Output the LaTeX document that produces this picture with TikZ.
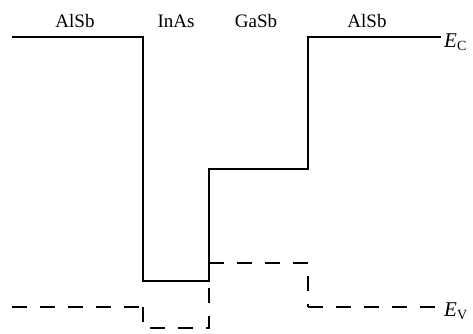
\documentclass[tikz,border=0pt]{standalone}
\usepackage{fontspec}
\setmainfont{Liberation Serif}
\newcommand{\bandsub}[1]{\raisebox{-0.35ex}{\fontsize{14}{16}\selectfont #1}}
\begin{document}
\begin{tikzpicture}[x=1pt,y=-1pt,
  band/.style={line width=2.6pt, line join=miter},
  vband/.style={band, dash pattern=on 15pt off 13pt},
  lab/.style={font=\fontsize{19}{22}\selectfont, inner sep=0pt},
  elab/.style={font=\fontsize{21}{24}\selectfont, inner sep=0pt, anchor=west}]
\useasboundingbox (0,0) rectangle (473,333);
% conduction band
\coordinate (c1) at (12,37);
\coordinate (c2) at (143,37);
\coordinate (c3) at (143,281);
\coordinate (c4) at (209,281);
\coordinate (c5) at (209,169);
\coordinate (c6) at (308,169);
\coordinate (c7) at (308,37);
\coordinate (c8) at (441,37);
\draw[band] (c1) -- (c2) -- (c3) -- (c4) -- (c5) -- (c6) -- (c7) -- (c8);
% valence band
\coordinate (v1) at (12,307);
\coordinate (v2) at (143,307);
\coordinate (v3) at (143,328);
\coordinate (v4) at (209,328);
\coordinate (v5) at (209,263);
\coordinate (v6) at (308,263);
\coordinate (v7) at (308,307);
\coordinate (v8) at (441,307);
\draw[vband] (v1) -- (v2);
\draw[vband] (v2) -- (v3) -- (v4) -- (v5);
\draw[vband] (v5) -- (v6) -- (v7);
\draw[vband] (v7) -- (v8);
% labels
\node[lab] (l1) at (75,21) {AlSb};
\node[lab] (l2) at (176,21) {InAs};
\node[lab] (l3) at (256,21) {GaSb};
\node[lab] (l4) at (367,21) {AlSb};
\node[elab] (ec) at (444,42) {{\itshape E}\bandsub{C}};
\node[elab] (ev) at (444,311) {{\itshape E}\bandsub{V}};
\end{tikzpicture}
\end{document}
